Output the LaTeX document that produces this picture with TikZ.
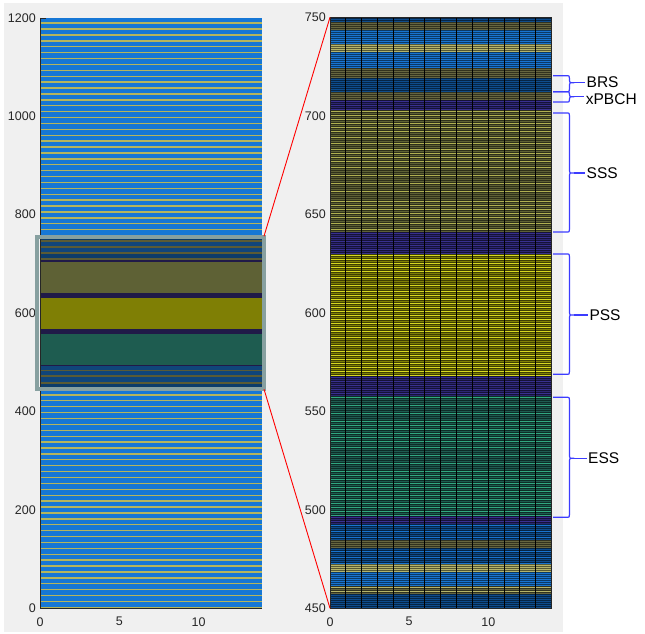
\documentclass[tikz,border=0pt]{standalone}
\usepackage{fontspec}
\setmainfont{Liberation Sans}
\definecolor{bggray}{HTML}{F0F0F0}
\definecolor{axcol}{HTML}{262626}
\definecolor{lblue}{HTML}{1677D5}
\definecolor{lstripe}{HTML}{B5B55C}
\definecolor{boxcol}{HTML}{87A0A0}
\definecolor{kdblue}{HTML}{0C3C6A}
\definecolor{kblue}{HTML}{10457A}
\definecolor{kolive}{HTML}{5A5B35}
\definecolor{knavy}{HTML}{201A48}
\definecolor{sss}{HTML}{5E6135}
\definecolor{pss}{HTML}{7F7F05}
\definecolor{ess}{HTML}{1E5C50}
\definecolor{rdblue}{HTML}{0E4C8C}
\definecolor{rblue}{HTML}{1874D0}
\definecolor{rolive}{HTML}{666640}
\definecolor{rlolive}{HTML}{B4B46A}
\definecolor{rnavy}{HTML}{2C2670}
\definecolor{rnavyl}{HTML}{383090}
\definecolor{rsss}{HTML}{5E6135}
\definecolor{sssl}{HTML}{B0B050}
\definecolor{rpss}{HTML}{7F7F05}
\definecolor{pssl}{HTML}{D8D820}
\definecolor{ress}{HTML}{1E5C50}
\definecolor{essl}{HTML}{30A880}
\definecolor{bracecol}{HTML}{3C3CFF}
\tikzset{
  ticklab/.style={font=\fontsize{12.5}{14}\selectfont, text=axcol, inner sep=0pt},
  seglab/.style={font=\fontsize{15.5}{17}\selectfont, text=black, inner sep=1.5pt, anchor=west},
  axline/.style={draw=axcol, line width=0.8pt},
  coledge/.style={draw=black, line width=1pt},
  rowedge/.style={fill=black, fill opacity=0.5},
  zoomline/.style={draw=red, line width=0.9pt},
  bracepath/.style={draw=bracecol, line width=1.2pt, line join=round},
  zoombox/.style={draw=boxcol, line width=4pt},
}
% left plot bands (data units)
\newcommand\band[3]{\fill[#3] (0,#1) rectangle (14,#2);}
% right plot bands and stripe rows (pixel units)
\newcommand\pband[3]{\fill[#3] (330,#1) rectangle (551.6,#2);}
\newcommand\pstripes[4]{\foreach \k in {1,...,#2}{\fill[#4] (330,{#1+#3*(\k-1)}) rectangle (551.6,{#1+#3*(\k-1)+1});}}
\newcommand\segbrace[4]{%
  \coordinate (#4tip) at (574,#3);
  \draw[bracepath] (553,#1) -- (566,#1) .. controls (569.5,#1) .. (569.5,{#1+3})
     -- (569.5,{#3-2}) .. controls (569.5,#3) .. (#4tip)
     .. controls (569.5,#3) .. (569.5,{#3+2})
     -- (569.5,{#2-3}) .. controls (569.5,#2) .. (566,#2) -- (553,#2);
  \draw[bracepath] (#4tip) -- (#4tip -| #4.west);
}
\begin{document}
\begin{tikzpicture}[x=1pt,y=-1pt]
\useasboundingbox (0,0) rectangle (645,634);
\fill[white] (0,0) rectangle (645,634);
\fill[bggray] (4,3) rectangle (563,632);

% ---------- left plot ----------
\begin{scope}[shift={(40,608)}, x=15.857pt, y=0.4917pt]
  \fill[lblue] (0,0) rectangle (14,1200);
  \foreach \k in {0,...,99}{\fill[lstripe] (0,{12*\k}) rectangle (14,{12*\k+2.8});}
  \band{750}{748}{kdblue}
  \band{748}{743.5}{kolive}
  \band{743.5}{735.6}{kblue}
  \band{735.6}{732}{kolive}
  \band{732}{724}{kblue}
  \band{724}{719}{kolive}
  \band{719}{711.5}{kdblue}
  \band{711.5}{708}{kolive}
  \band{708}{703}{knavy}
  \band{703}{641}{sss}
  \band{641}{630}{knavy}
  \band{630}{568}{pss}
  \band{568}{558}{knavy}
  \band{558}{495}{ess}
  \band{495}{492}{knavy}
  \band{492}{485}{kblue}
  \band{485}{481}{kolive}
  \band{481}{473}{kblue}
  \band{473}{469}{kolive}
  \band{469}{460.5}{kblue}
  \band{460.5}{456.5}{kolive}
  \band{456.5}{450}{kdblue}
  \draw[axline] (0,1200) -- (0,0) -- (14,0);
  \draw[axline] (0,1200) -- (0.4,1200);
\end{scope}

\foreach \v/\p in {0/608, 200/509.7, 400/411.3, 600/313, 800/214.6, 1000/116.3, 1200/18}
  {\node[ticklab, anchor=east] (ly\v) at (36,\p) {\v};}
\foreach \v/\p in {0/40, 5/119.3, 10/198.6}
  {\node[ticklab] (lx\v) at (\p,621.7) {\v};}

% zoom box
\draw[zoombox] (37,236.7) rectangle (264,388.7);
\coordinate (boxNE) at (264,236.2);
\coordinate (boxSE) at (264,389.2);

% ---------- right plot (pixel-aligned rows) ----------
\pband{17.3}{22}{rdblue}
\pband{22}{30}{rolive}
\pband{30}{44}{rblue}
\pband{44}{52}{rlolive}
\pband{52}{68}{rblue}
\pband{68}{78}{rolive}
\pband{78}{92}{rdblue}
\pband{92}{100}{rolive}
\pband{100}{110}{rnavy}
\pband{110}{232}{rsss}
\pband{232}{254}{rnavy}
\pband{254}{376}{rpss}
\pband{376}{396}{rnavy}
\pband{396}{516}{ress}
\pband{516}{524}{rnavy}
\pband{524}{540}{rdblue}
\pband{540}{548}{rolive}
\pband{548}{564}{rdblue}
\pband{564}{572}{rlolive}
\pband{572}{586}{rblue}
\pband{586}{594}{rolive}
\pband{594}{608.3}{rdblue}
\pstripes{101}{3}{4}{rnavyl}
\pstripes{111}{5}{4}{sssl}
\pstripes{131}{3}{6}{sssl}
\pstripes{149}{4}{4}{sssl}
\pstripes{167}{4}{8}{sssl}
\pstripes{201}{5}{4}{sssl}
\pstripes{223}{2}{6}{sssl}
\pstripes{233}{6}{4}{rnavyl}
\pstripes{255}{5}{4}{pssl}
\pstripes{277}{2}{8}{pssl}
\pstripes{291}{11}{4}{pssl}
\pstripes{337}{2}{8}{pssl}
\pstripes{351}{7}{4}{pssl}
\pstripes{377}{5}{4}{rnavyl}
\pstripes{397}{3}{8}{essl}
\pstripes{421}{6}{4}{essl}
\pstripes{447}{3}{8}{essl}
\pstripes{471}{12}{4}{essl}
\pstripes{517}{2}{4}{rnavyl}
\pstripes{525}{3}{6}{rblue}
\pstripes{551}{3}{6}{rblue}
\pstripes{587}{2}{4}{rlolive}
\foreach \k in {0,...,294}{\fill[rowedge] (330,{18+2*\k}) rectangle (551.6,{19+2*\k});}
\foreach \i in {0,...,14}{\draw[coledge] ({330+15.83*\i},17.3) -- ({330+15.83*\i},608.3);}
\draw[axline] (330,17.3) rectangle (551.6,608.3);
\draw[axline] (330,17.3) -- (335,17.3);
\coordinate (raxNW) at (330,17.3);
\coordinate (raxSW) at (330,608.3);

\foreach \v/\p in {450/608.3, 500/509.8, 550/411.3, 600/312.8, 650/214.3, 700/115.8, 750/17.3}
  {\node[ticklab, anchor=east] (ry\v) at (326,\p) {\v};}
\foreach \v/\p in {0/330, 5/409.2, 10/488.3}
  {\node[ticklab] (rx\v) at (\p,621.7) {\v};}

% zoom connectors
\draw[zoomline] (boxNE) -- (raxNW);
\draw[zoomline] (boxSE) -- (raxSW);

% labels and braces
\node[seglab] (BRS) at (585,82) {BRS};
\node[seglab] (xPBCH) at (584.2,99.3) {xPBCH};
\node[seglab] (SSS) at (585,173) {SSS};
\node[seglab] (PSS) at (587.8,315) {PSS};
\node[seglab] (ESS) at (586.5,458.3) {ESS};
\segbrace{75.7}{91.7}{82.7}{BRS}
\segbrace{91.7}{102}{96.8}{xPBCH}
\segbrace{113}{232}{173}{SSS}
\segbrace{254}{374.3}{315}{PSS}
\segbrace{397.3}{517.3}{458.3}{ESS}
\end{tikzpicture}
\end{document}
